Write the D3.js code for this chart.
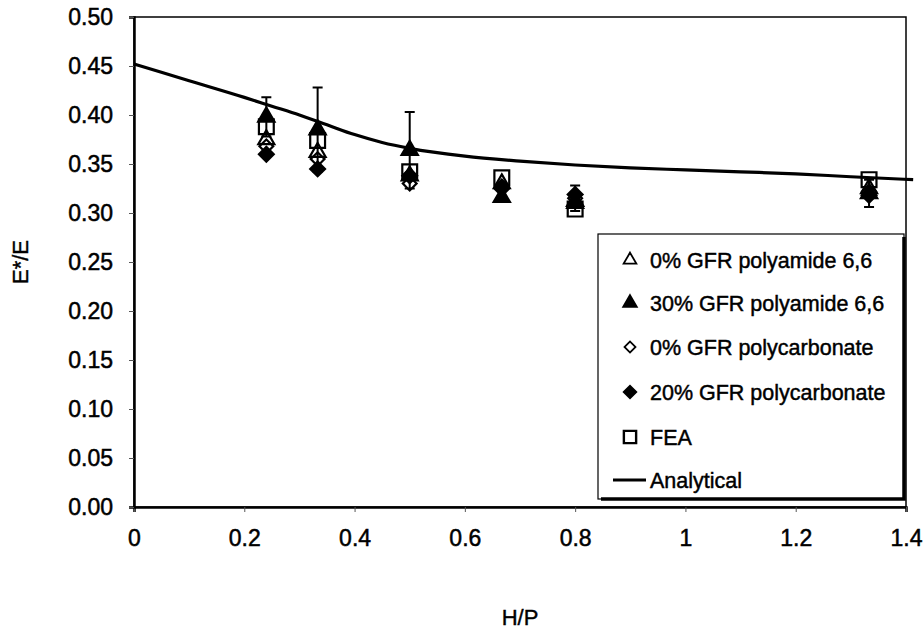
<!DOCTYPE html>
<html>
<head>
<meta charset="utf-8">
<script src="https://cdnjs.cloudflare.com/ajax/libs/d3/7.8.5/d3.min.js"></script>
<style>
  body { margin: 0; background: #fff; }
  text { font-family: "Liberation Sans", Arial, sans-serif; fill: #000; }
</style>
</head>
<body>
<div id="chart"></div>
<script>
// H/P positions of the measurements
var hp = [0.24, 0.333, 0.5, 0.667, 0.8, 1.333];

var pa0   = [0.375, 0.362, 0.338, 0.330, 0.310, 0.325];  // 0% GFR polyamide 6,6
var pa30  = [0.398, 0.385, 0.364, 0.316, 0.312, 0.320];  // 30% GFR polyamide 6,6
var pc0   = [0.368, 0.355, 0.330, 0.327, 0.315, 0.322];  // 0% GFR polycarbonate
var pc20  = [0.360, 0.345, 0.338, 0.325, 0.319, 0.318];  // 20% GFR polycarbonate
var fea   = [0.388, 0.374, 0.342, 0.336, 0.304, 0.334];  // FEA

// error bars (half range), 0 = none
var pa30Err = [0.020, 0.043, 0.039, 0, 0, 0.014];
var pc0Err  = [0, 0, 0, 0, 0.013, 0];

var anaX = [0, 0.1, 0.2, 0.25, 0.3, 0.35, 0.4, 0.45, 0.5, 0.6, 0.7, 0.8, 0.9, 1.0, 1.1, 1.2, 1.3, 1.413];
var anaY = [0.452, 0.435, 0.418, 0.409, 0.400, 0.390, 0.380, 0.372, 0.366, 0.358, 0.353, 0.349, 0.346, 0.344, 0.342, 0.340, 0.337, 0.334];

var xTicks = [0, 0.2, 0.4, 0.6, 0.8, 1, 1.2, 1.4];
var xTickLabels = ["0", "0.2", "0.4", "0.6", "0.8", "1", "1.2", "1.4"];
var yTicks = [0, 0.05, 0.1, 0.15, 0.2, 0.25, 0.3, 0.35, 0.4, 0.45, 0.5];
var yTickLabels = ["0.00", "0.05", "0.10", "0.15", "0.20", "0.25", "0.30", "0.35", "0.40", "0.45", "0.50"];

var legendNames = ["0% GFR polyamide 6,6", "30% GFR polyamide 6,6", "0% GFR polycarbonate", "20% GFR polycarbonate", "FEA", "Analytical"];

function init() {
    var w = 924, h = 636;
    var left = 134, right = 906, top = 17, bottom = 507;

    var svg = d3.select("#chart").append("svg")
        .attr("width", w)
        .attr("height", h);

    var xScale = d3.scaleLinear().domain([0, 1.4]).range([left, right]);
    var yScale = d3.scaleLinear().domain([0, 0.5]).range([bottom, top]);

    // plot frame
    svg.append("rect")
        .attr("x", left).attr("y", top)
        .attr("width", right - left).attr("height", bottom - top)
        .attr("fill", "none").attr("stroke", "#000").attr("stroke-width", 1.5);

    var xAxis = d3.axisBottom(xScale)
        .tickValues(xTicks)
        .tickFormat(function(d, i) { return xTickLabels[i]; })
        .tickSize(5).tickPadding(18);
    var yAxis = d3.axisLeft(yScale)
        .tickValues(yTicks)
        .tickFormat(function(d, i) { return yTickLabels[i]; })
        .tickSize(5).tickPadding(16);

    var gx = svg.append("g").attr("transform", "translate(0," + bottom + ")").call(xAxis);
    var gy = svg.append("g").attr("transform", "translate(" + left + ",0)").call(yAxis);
    [gx, gy].forEach(function(g) {
        g.select(".domain").attr("stroke-width", 2.5).attr("stroke", "#000");
        g.selectAll(".tick line").attr("stroke", "#555").attr("stroke-width", 1);
        g.selectAll(".tick text")
            .attr("font-size", 23)
            .attr("font-family", "Liberation Sans, Arial, sans-serif")
            .attr("fill", "#000")
            .attr("stroke", "#000").attr("stroke-width", 0.5);
    });

    // axis titles
    svg.append("text")
        .attr("transform", "translate(28," + ((top + bottom) / 2) + ") rotate(-90)")
        .attr("text-anchor", "middle")
        .attr("font-size", 22)
        .attr("stroke", "#000").attr("stroke-width", 0.4)
        .text("E*/E");
    svg.append("text")
        .attr("x", (left + right) / 2).attr("y", 625)
        .attr("text-anchor", "middle")
        .attr("font-size", 22)
        .attr("stroke", "#000").attr("stroke-width", 0.4)
        .text("H/P");

    // legend box with shadow edges
    var lg = svg.append("g");
    var lx = 598, ly = 234, lw = 306, lh = 265;
    lg.append("rect")
        .attr("x", lx).attr("y", ly).attr("width", lw).attr("height", lh)
        .attr("fill", "#fff").attr("stroke", "#000").attr("stroke-width", 1.2);
    lg.append("path")
        .attr("d", "M" + (lx + lw) + "," + (ly + 3) + "V" + (ly + lh) + "H" + (lx + 3))
        .attr("fill", "none").attr("stroke", "#000").attr("stroke-width", 3.5);

    var sym = {
        triOpen:  { type: d3.symbolTriangle, size: 111, fill: "none", rot: 0 },
        triFill:  { type: d3.symbolTriangle, size: 115, fill: "#000", rot: 0 },
        diaOpen:  { type: d3.symbolSquare, size: 95, fill: "none", rot: 45 },
        diaFill:  { type: d3.symbolSquare, size: 110, fill: "#000", rot: 45 },
        sqOpen:   { type: d3.symbolSquare, size: 220, fill: "none", rot: 0 }
    };
    var legSym = {
        triOpen:  { type: d3.symbolTriangle, size: 70, fill: "none", rot: 0 },
        triFill:  { type: d3.symbolTriangle, size: 80, fill: "#000", rot: 0 },
        diaOpen:  { type: d3.symbolSquare, size: 60, fill: "none", rot: 45 },
        diaFill:  { type: d3.symbolSquare, size: 80, fill: "#000", rot: 45 },
        sqOpen:   { type: d3.symbolSquare, size: 150, fill: "none", rot: 0 }
    };

    var series = [
        { vals: pa0,  m: "triOpen" },
        { vals: pa30, m: "triFill", err: pa30Err },
        { vals: pc0,  m: "diaOpen", err: pc0Err },
        { vals: pc20, m: "diaFill" },
        { vals: fea,  m: "sqOpen" }
    ];

    // error bars
    series.forEach(function(s) {
        if (!s.err) return;
        hp.forEach(function(x, i) {
            var e = s.err[i];
            if (!e) return;
            var cx = xScale(x);
            var y1 = yScale(s.vals[i] + e), y2 = yScale(s.vals[i] - e);
            svg.append("path")
                .attr("d", "M" + cx + "," + y1 + "V" + y2 +
                           "M" + (cx - 5) + "," + y1 + "H" + (cx + 5) +
                           "M" + (cx - 5) + "," + y2 + "H" + (cx + 5))
                .attr("stroke", "#000").attr("stroke-width", 2).attr("fill", "none");
        });
    });

    // markers
    series.forEach(function(s) {
        var sd = sym[s.m];
        svg.append("g").selectAll("path")
            .data(s.vals)
            .enter()
            .append("path")
            .attr("d", d3.symbol().type(sd.type).size(sd.size))
            .attr("transform", function(d, i) {
                return "translate(" + xScale(hp[i]) + "," + yScale(d) + ") rotate(" + sd.rot + ")";
            })
            .attr("fill", sd.fill)
            .attr("stroke", "#000")
            .attr("stroke-width", 2.2);
    });

    // analytical curve
    var line = d3.line()
        .x(function(d, i) { return xScale(anaX[i]); })
        .y(function(d) { return yScale(d); })
        .curve(d3.curveMonotoneX);
    svg.append("path")
        .datum(anaY)
        .attr("d", line)
        .attr("fill", "none")
        .attr("stroke", "#000")
        .attr("stroke-width", 3.2);

    // legend entries
    var keys = ["triOpen", "triFill", "diaOpen", "diaFill", "sqOpen"];
    var rowY = [260, 303, 347, 392, 437, 480];
    legendNames.forEach(function(name, i) {
        if (i < 5) {
            var sd = legSym[keys[i]];
            lg.append("path")
                .attr("d", d3.symbol().type(sd.type).size(sd.size))
                .attr("transform", "translate(630," + rowY[i] + ") rotate(" + sd.rot + ")")
                .attr("fill", sd.fill)
                .attr("stroke", "#000")
                .attr("stroke-width", keys[i] == "sqOpen" ? 2.4 : 1.8);
        } else {
            lg.append("line")
                .attr("x1", 613).attr("x2", 646)
                .attr("y1", rowY[i]).attr("y2", rowY[i])
                .attr("stroke", "#000").attr("stroke-width", 3.2);
        }
        lg.append("text")
            .attr("x", 650).attr("y", rowY[i])
            .attr("dy", "0.36em")
            .attr("font-size", 21.5)
            .attr("stroke", "#000").attr("stroke-width", 0.45)
            .text(name);
    });
}

window.onload = init;
</script>
</body>
</html>
